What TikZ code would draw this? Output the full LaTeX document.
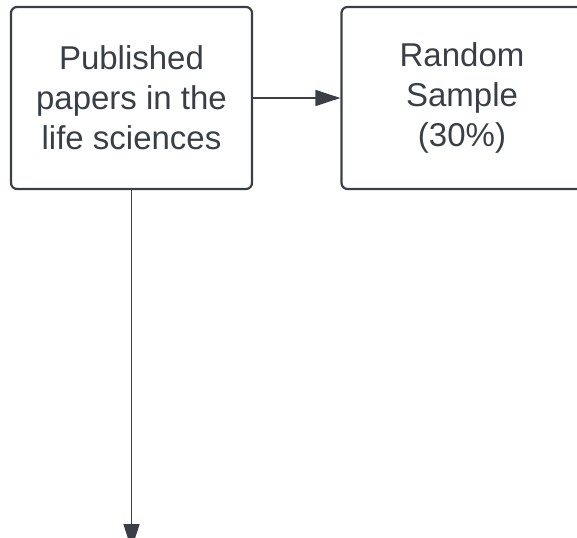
\documentclass[tikz,border=0pt]{standalone}
\usepackage{fontspec}
\setmainfont{Liberation Sans}
\usetikzlibrary{arrows.meta}
\definecolor{ink}{HTML}{3A3F47}
\begin{document}
\begin{tikzpicture}[x=1pt,y=-1pt,line join=round,>={Triangle[length=25pt,width=16pt]},
  box/.style={draw=ink,line width=2.2pt,rounded corners=6pt,minimum width=241pt,minimum height=182pt,
    align=center,text=ink,inner sep=0pt,font=\fontsize{33}{40}\selectfont}]
\useasboundingbox (0,0) rectangle (577,537);
\node[box] (pub) at (131.5,98) {Published\\papers in the\\life sciences};
\node[box] (rand) at (462,98) {Random\\Sample\\(30\%)};
\draw[->,ink,line width=1.4pt] (pub) -- (rand);
\draw[->,ink,line width=1.4pt] (pub.south) -- ++(0,359) coordinate (out);
\end{tikzpicture}
\end{document}
